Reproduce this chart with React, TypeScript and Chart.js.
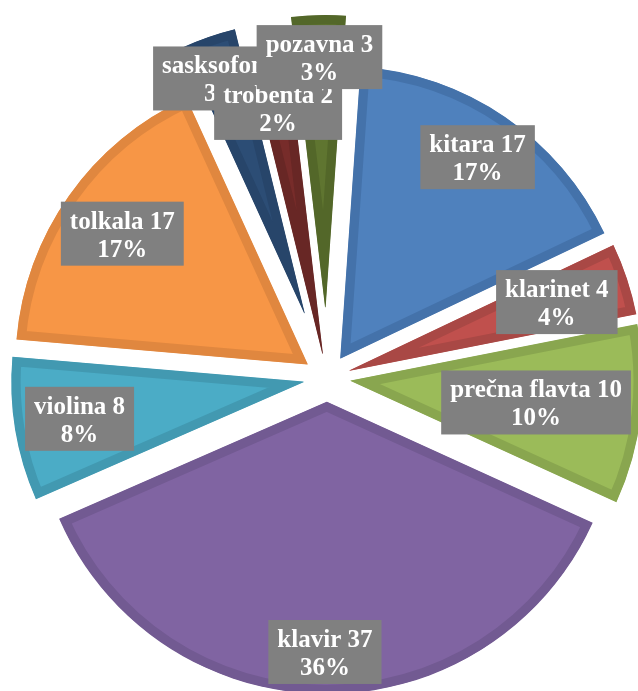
import React, { useEffect, useRef } from "react";
import { Chart, PieController, ArcElement } from "chart.js";

Chart.register(PieController, ArcElement);

const categories = ["kitara", "klarinet", "prečna flavta", "klavir", "violina", "tolkala", "sasksofon", "trobenta", "pozavna"];
const values = [17, 4, 10, 37, 8, 17, 3, 2, 3];
const percentLabels = ["17%", "4%", "10%", "36%", "8%", "17%", "3%", "2%", "3%"];

const fillColors = ["#4f81bd", "#c0504d", "#9bbb59", "#8064a2", "#4bacc6", "#f79646", "#2c4d75", "#772c2a", "#5f7530"];
const borderColors = ["#4472aa", "#a94845", "#89a64f", "#725a92", "#4299b1", "#e0873f", "#27456a", "#682725", "#536729"];
// explosion distance of each slice, px
const explodePx = [24, 24, 24, 24, 24, 24, 69, 25, 71];

// translate every slice outward along its bisector before Chart.js draws it
const explodePlugin = {
  id: "explode",
  beforeDatasetsDraw(chart: any) {
    const meta = chart.getDatasetMeta(0);
    meta.data.forEach((arc: any, i: number) => {
      if (arc.__exploded) return;
      const orig = arc.draw.bind(arc);
      arc.draw = (ctx: CanvasRenderingContext2D, area: any) => {
        const mid = (arc.startAngle + arc.endAngle) / 2;
        const d = explodePx[i] || 0;
        ctx.save();
        ctx.translate(Math.cos(mid) * d, Math.sin(mid) * d);
        orig(ctx, area);
        ctx.restore();
      };
      arc.__exploded = true;
    });
  },
};

const labelPlugin = {
  id: "boxLabels",
  afterDatasetsDraw(chart: any) {
    const ctx = chart.ctx as CanvasRenderingContext2D;
    const meta = chart.getDatasetMeta(0);
    ctx.save();
    ctx.font = "bold 25px 'Liberation Serif'";
    meta.data.forEach((arc: any, i: number) => {
      const p = arc.getProps(["x", "y", "startAngle", "endAngle", "outerRadius"], true);
      const off = explodePx[i] || 0;
      const mid = (p.startAngle + p.endAngle) / 2;
      const cx0 = p.x + Math.cos(mid) * off;
      const cy0 = p.y + Math.sin(mid) * off;
      const l1 = `${categories[i]} ${values[i]}`;
      const l2 = percentLabels[i];
      const w = Math.max(ctx.measureText(l1).width, ctx.measureText(l2).width) + 18;
      const h = 64;
      const c = Math.abs(Math.cos(mid));
      const s = Math.abs(Math.sin(mid));
      const t = Math.min(c > 1e-6 ? w / 2 / c : 1e9, s > 1e-6 ? h / 2 / s : 1e9);
      const d = p.outerRadius - 10 - t;
      const bx = cx0 + Math.cos(mid) * d;
      const by = cy0 + Math.sin(mid) * d;
      ctx.fillStyle = "#808080";
      ctx.fillRect(bx - w / 2, by - h / 2, w, h);
      ctx.fillStyle = "#ffffff";
      ctx.textAlign = "center";
      ctx.textBaseline = "alphabetic";
      ctx.fillText(l1, bx, by - 5);
      ctx.fillText(l2, bx, by + 23);
    });
    ctx.restore();
  },
};

export default function App() {
  const ref = useRef<HTMLCanvasElement | null>(null);
  useEffect(() => {
    if (!ref.current) return;
    const chart = new Chart(ref.current, {
      type: "pie",
      data: {
        labels: categories,
        datasets: [
          {
            data: values,
            backgroundColor: fillColors,
            borderColor: borderColors,
            borderWidth: 9,
            borderAlign: "inner",
          } as any,
        ],
      },
      options: {
        animation: false,
        responsive: false,
        devicePixelRatio: 1,
        rotation: 4,
        radius: 292,
        layout: { padding: 0 },
        plugins: { legend: { display: false }, tooltip: { enabled: false } },
        events: [],
      } as any,
      plugins: [explodePlugin, labelPlugin],
    });
    return () => chart.destroy();
  }, []);
  return (
    <div style={{ position: "fixed", left: 0, top: 0, width: 638, height: 691, overflow: "hidden", background: "#ffffff" }}>
      <canvas ref={ref} width={654} height={756} style={{ display: "block" }} />
    </div>
  );
}
